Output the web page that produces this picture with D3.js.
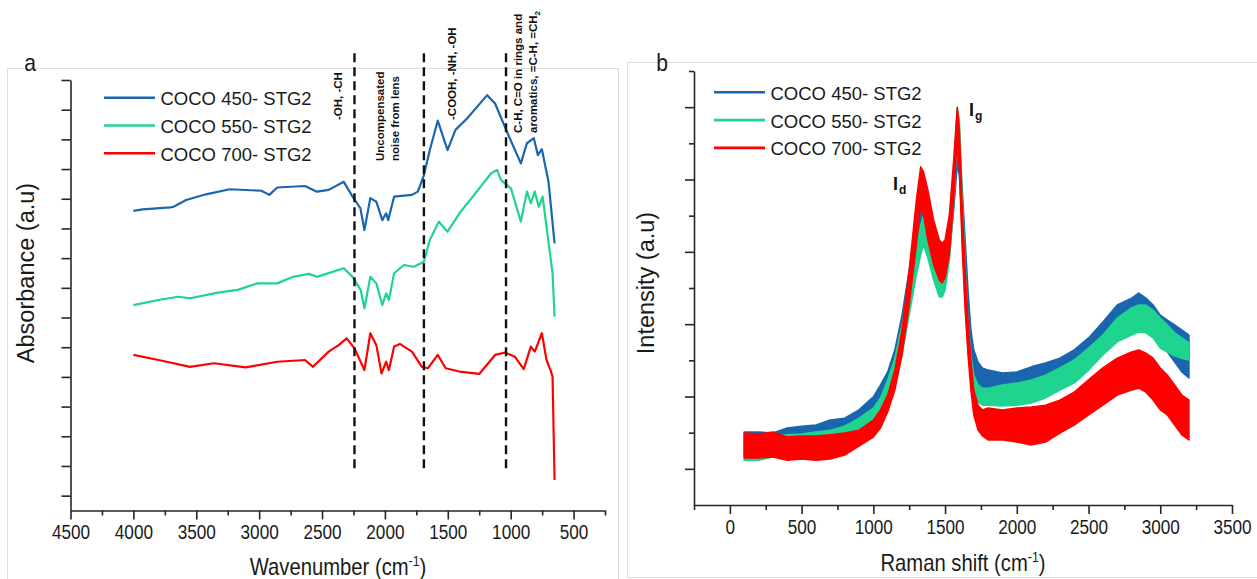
<!DOCTYPE html>
<html>
<head>
<meta charset="utf-8">
<script src="https://cdn.jsdelivr.net/npm/d3@7"></script>
<style>
  body { margin: 0; background: #fff; }
  svg { font-family: "Liberation Sans", Arial, Helvetica, sans-serif; }
  .axis path, .axis line { stroke: #262626; stroke-width: 1.6; }
</style>
</head>
<body>
<svg id="fig" width="1257" height="579"></svg>
<script>
/* two panel figure: (a) FTIR absorbance, (b) Raman intensity */

// legend / series
const seriesNames  = ['COCO 450- STG2', 'COCO 550- STG2', 'COCO 700- STG2'];
const seriesColors = ['#1a66ae', '#1ed48e', '#ff0000'];

// panel a : FTIR, [wavenumber, absorbance a.u.]
const ftir450 = [[4000,10.09],[3927,10.14],[3706,10.21],[3680,10.23],[3580,10.46],[3423,10.65],[3234,10.82],
  [2982,10.77],[2919,10.63],[2856,10.88],[2636,10.93],[2541,10.74],[2447,10.80],[2327,11.07],[2257,10.57],
  [2195,10.18],[2163,9.45],[2116,10.52],[2068,10.40],[2021,9.78],[1990,10.01],[1974,9.78],[1927,10.57],
  [1785,10.63],[1738,10.74],[1690,11.30],[1643,12.14],[1580,13.13],[1502,12.14],[1439,12.82],[1345,13.21],
  [1187,13.99],[1124,13.71],[1030,12.76],[919,11.69],[871,12.37],[816,12.54],[784,11.97],[752,12.17],
  [699,11.07],[651,9.00]];
const ftir550 = [[4000,6.92],[3800,7.09],[3643,7.20],[3550,7.15],[3328,7.34],[3171,7.43],[3013,7.65],
  [2856,7.65],[2730,7.87],[2604,7.97],[2541,7.87],[2327,8.16],[2257,7.87],[2193,7.43],[2163,6.81],
  [2116,7.87],[2068,7.65],[2021,6.92],[1990,7.31],[1968,7.09],[1927,7.99],[1849,8.27],[1769,8.21],
  [1690,8.38],[1643,9.11],[1571,9.73],[1502,9.39],[1407,10.01],[1281,10.68],[1155,11.36],[1108,11.47],
  [1076,11.13],[998,10.85],[919,9.73],[871,10.74],[840,10.35],[808,10.74],[777,10.23],[746,10.57],
  [667,7.99],[651,6.53]];
const ftir700 = [[4000,5.24],[3800,5.07],[3550,4.84],[3360,4.96],[3108,4.82],[2856,5.01],[2636,5.07],
  [2572,4.84],[2447,5.35],[2368,5.57],[2304,5.80],[2242,5.46],[2163,4.73],[2116,5.97],[2068,5.57],
  [2027,4.62],[1990,5.01],[1968,4.73],[1927,5.52],[1881,5.61],[1785,5.35],[1706,4.84],[1659,4.79],
  [1580,5.24],[1517,4.79],[1407,4.68],[1250,4.60],[1124,5.24],[1045,5.32],[967,5.18],[896,4.76],
  [840,5.52],[808,5.35],[752,5.97],[715,5.07],[683,4.73],[667,4.51],[651,1.03]];

// dashed band boundaries (cm-1)
const bandLines = [2242, 1690, 1037];

// axis ticks
const ftirMajor = [4500, 4000, 3500, 3000, 2500, 2000, 1500, 1000, 500];
const ftirMinor = [4250, 3750, 3250, 2750, 2250, 1750, 1250, 750, 250];
const ftirYTicks = [0.5,1.5,2.5,3.5,4.5,5.5,6.5,7.5,8.5,9.5,10.5,11.5,12.5,13.5,14.5];
const ramanMajor = [0, 500, 1000, 1500, 2000, 2500, 3000, 3500];
const ramanMinor = [-250, 250, 750, 1250, 1750, 2250, 2750, 3250];
const ramanYMajor = [1, 3, 5, 7, 9, 11];
const ramanYMinor = [2, 4, 6, 8, 10, 12];

// panel b : Raman, noisy spectra read as lower / upper envelopes
const ramanShift = [100,200,300,400,500,600,700,800,900,1000,1050,1100,1150,1200,1250,1300,
  1330,1350,1380,1420,1460,1480,1500,1530,1560,1585,1600,1620,1640,1660,1680,1700,1730,1760,
  1800,1900,2000,2100,2200,2300,2400,2500,2600,2700,2800,2850,2900,2950,3000,3050,3100,3150,3200];
const r450High = [2.02,2.02,1.99,2.13,2.18,2.21,2.35,2.40,2.63,2.99,3.32,3.68,4.29,5.25,6.50,7.74,
  8.29,8.43,8.02,7.66,6.91,6.77,6.99,7.74,9.12,10.23,10.09,8.71,7.33,5.94,4.84,4.29,3.95,3.79,
  3.73,3.65,3.68,3.82,3.93,4.06,4.29,4.62,5.06,5.53,5.72,5.86,5.72,5.53,5.25,5.11,4.98,4.84,4.70];
const r450Low  = [1.38,1.38,1.38,1.47,1.52,1.52,1.66,1.80,2.02,2.35,2.63,3.04,3.59,4.42,5.53,6.77,
  7.46,7.60,7.19,6.72,6.17,6.00,6.17,6.91,8.16,9.40,9.12,7.60,5.94,4.84,4.01,3.59,3.32,3.18,
  3.12,3.10,3.10,3.18,3.26,3.40,3.59,3.87,4.29,4.70,4.98,5.06,4.95,4.70,4.42,4.23,3.95,3.68,3.51];
const r550High = [1.94,1.88,1.91,1.94,1.96,2.02,2.07,2.18,2.40,2.68,2.96,3.46,4.06,4.98,6.08,7.19,
  7.74,8.02,7.74,7.05,6.36,6.28,6.64,7.60,9.26,10.98,10.64,8.43,6.64,5.11,4.15,3.59,3.32,3.23,
  3.23,3.32,3.37,3.46,3.59,3.79,4.01,4.34,4.70,5.17,5.45,5.53,5.53,5.39,5.17,4.98,4.76,4.62,4.48];
const r550Low  = [1.24,1.24,1.33,1.33,1.38,1.44,1.52,1.60,1.80,2.07,2.35,2.76,3.32,4.15,5.25,6.36,
  6.91,7.19,6.83,6.22,5.75,5.75,5.94,6.77,8.29,10.23,9.54,7.33,5.53,4.29,3.46,3.04,2.85,2.76,
  2.76,2.74,2.76,2.82,2.96,3.18,3.37,3.73,4.15,4.51,4.70,4.78,4.76,4.62,4.34,4.23,4.12,4.06,4.01];
const r700High = [1.99,1.96,2.02,1.88,1.91,1.91,1.94,1.99,2.07,2.35,2.63,3.04,3.73,4.84,6.50,8.43,
  9.35,9.21,8.71,7.88,7.33,7.24,7.33,8.02,9.54,11.00,10.37,8.16,6.50,5.11,4.01,3.18,2.76,2.63,
  2.68,2.63,2.68,2.71,2.76,2.90,3.12,3.46,3.79,4.06,4.23,4.29,4.20,4.06,3.79,3.59,3.32,3.04,2.90];
const r700Low  = [1.30,1.30,1.33,1.24,1.27,1.24,1.27,1.38,1.63,1.88,2.13,2.57,3.18,4.15,5.53,7.19,
  8.29,8.02,7.33,6.64,6.22,6.14,6.28,6.91,8.43,10.23,9.26,7.05,5.39,4.15,3.18,2.49,2.07,1.91,
  1.80,1.80,1.74,1.66,1.74,1.99,2.21,2.49,2.76,3.04,3.18,3.23,3.12,2.90,2.63,2.49,2.21,1.94,1.80];


const svg = d3.select('#fig');
const SX = 0.88;   // glyphs in the source image are horizontally squeezed

// helper : horizontal text, squeezed
const hText = function(x, y, str, size, anchor){
  return svg.append('text')
    .attr('transform', 'translate(' + x + ',' + y + ') scale(' + SX + ',1)')
    .attr('text-anchor', anchor || 'start')
    .attr('font-size', size)
    .attr('fill', '#1a1a1a')
    .text(str);
}

// helper : title with cm-1 superscript
const cmTitle = function(x, y, label){
  let t = hText(x, y, '', 23, 'middle');
  t.append('tspan').text(label + ' (cm');
  t.append('tspan').attr('font-size', 14).attr('dy', -9).text('-1');
  t.append('tspan').attr('dy', 9).text(')');
}

// panel frames
svg.append('rect').attr('x', 7.5).attr('y', 68.5).attr('width', 611).attr('height', 600)
  .attr('fill', 'none').attr('stroke', '#dddddd');
svg.append('rect').attr('x', 627.5).attr('y', 62.5).attr('width', 640).attr('height', 515)
  .attr('fill', 'none').attr('stroke', '#dddddd');

// scales
const xA = d3.scaleLinear().domain([4500, 250]).range([70.5, 605]);
const yA = d3.scaleLinear().domain([0, 14.5]).range([510.5, 80]);
const xB = d3.scaleLinear().domain([-250, 3500]).range([694, 1232]);
const yB = d3.scaleLinear().domain([0, 12]).range([505, 71]);

// draw one panel's axes
const drawAxes = function(xs, ys, xMajor, xMinor, yMajor, yMinor){
  let y0 = ys.range()[0], x0 = xs.range()[0];
  let gx = svg.append('g').attr('class', 'axis').attr('transform', 'translate(0,' + y0 + ')')
    .call(d3.axisBottom(xs).tickValues(xMajor).tickSize(9).tickSizeOuter(0).tickPadding(6)
      .tickFormat(d3.format('d')));
  gx.selectAll('.tick text').attr('font-size', 19.5).attr('fill', '#1a1a1a')
    .attr('font-family', 'Liberation Sans, Arial, sans-serif')
    .attr('transform', 'scale(' + SX + ',1)');
  svg.append('g').attr('class', 'axis').attr('transform', 'translate(0,' + y0 + ')')
    .call(d3.axisBottom(xs).tickValues(xMinor).tickSize(5).tickFormat(''))
    .select('.domain').remove();

  svg.append('g').attr('class', 'axis').attr('transform', 'translate(' + x0 + ',0)')
    .call(d3.axisLeft(ys).tickValues(yMajor).tickSize(9).tickSizeOuter(0).tickFormat(''));
  if (yMinor) {
    svg.append('g').attr('class', 'axis').attr('transform', 'translate(' + x0 + ',0)')
      .call(d3.axisLeft(ys).tickValues(yMinor).tickSize(5).tickFormat(''))
      .select('.domain').remove();
  }
}

drawAxes(xA, yA, ftirMajor, ftirMinor, ftirYTicks, null);
drawAxes(xB, yB, ramanMajor, ramanMinor, ramanYMajor, ramanYMinor);

// ---- panel a curves
const ftirLine = d3.line().x(d => xA(d[0])).y(d => yA(d[1]));
[ftir450, ftir550, ftir700].forEach(function(data, i){
  svg.append('path').datum(data)
    .attr('d', ftirLine)
    .attr('fill', 'none')
    .attr('stroke', seriesColors[i])
    .attr('stroke-width', 2.2)
    .attr('stroke-linejoin', 'round');
});

// dashed band lines, run above the frame as in the source
for (let wn of bandLines) {
  svg.append('line')
    .attr('x1', xA(wn)).attr('x2', xA(wn))
    .attr('y1', yA(15.4)).attr('y2', yA(1.27))
    .attr('stroke', '#111').attr('stroke-width', 2.4)
    .attr('stroke-dasharray', '9,5');
}

// rotated band annotations
const vText = function(x, y){
  return svg.append('text')
    .attr('transform', 'translate(' + x + ',' + y + ') rotate(-90)')
    .attr('font-size', 11.5).attr('font-weight', 'bold').attr('fill', '#111');
}
vText(342, 120).text('-OH, -CH');
vText(384, 161).text('Uncompensated');
vText(399, 161).text('noise from lens');
vText(456, 120).text('-COOH, -NH, -OH');
vText(522, 133).text('C-H, C=O in rings and');
let arom = vText(537, 133);
arom.append('tspan').text('aromatics, =C-H, =CH');
arom.append('tspan').attr('font-size', 8).attr('dy', 3).text('2');

// ---- panel b bands
const ramanSets = [[r450Low, r450High], [r550Low, r550High], [r700Low, r700High]];
const ramanArea = d3.area().x(d => xB(d.w)).y0(d => yB(d.lo)).y1(d => yB(d.hi));
ramanSets.forEach(function(set, i){
  let data = ramanShift.map((w, k) => ({w: w, lo: set[0][k], hi: set[1][k]}));
  svg.append('path').datum(data)
    .attr('d', ramanArea)
    .attr('fill', seriesColors[i])
    .attr('stroke', seriesColors[i])
    .attr('stroke-width', 1.5)
    .attr('stroke-linejoin', 'round');
});

// peak labels
let id = svg.append('text').attr('x', 893).attr('y', 189.5)
  .attr('font-size', 18).attr('font-weight', 'bold').attr('fill', '#111');
id.append('tspan').text('I');
id.append('tspan').attr('font-size', 12).attr('dy', 4).attr('dx', 1).text('d');
let ig = svg.append('text').attr('x', 969).attr('y', 116)
  .attr('font-size', 18).attr('font-weight', 'bold').attr('fill', '#111');
ig.append('tspan').text('I');
ig.append('tspan').attr('font-size', 12).attr('dy', 4).attr('dx', 1).text('g');

// ---- legends
const drawLegend = function(x, y0){
  seriesNames.forEach(function(name, i){
    let y = y0 + i * 27.8;
    svg.append('line').attr('x1', x).attr('x2', x + 51).attr('y1', y).attr('y2', y)
      .attr('stroke', seriesColors[i]).attr('stroke-width', 2.6);
    svg.append('text').attr('x', x + 56.5).attr('y', y + 7.5)
      .attr('font-size', 18.5).attr('fill', '#1a1a1a').text(name);
  });
}
drawLegend(104, 97.7);
drawLegend(714, 92.3);

// ---- titles
cmTitle(338, 575, 'Wavenumber');
cmTitle(963, 571, 'Raman shift');

svg.append('text').attr('transform', 'translate(34,273) rotate(-90)')
  .attr('text-anchor', 'middle').attr('font-size', 23.5).attr('fill', '#1a1a1a')
  .text('Absorbance (a.u)');
svg.append('text').attr('transform', 'translate(654,283) rotate(-90)')
  .attr('text-anchor', 'middle').attr('font-size', 23.5).attr('fill', '#1a1a1a')
  .text('Intensity (a.u)');

hText(30, 71, 'a', 24, 'middle');
hText(662, 71, 'b', 24, 'middle');
</script>
</body>
</html>
